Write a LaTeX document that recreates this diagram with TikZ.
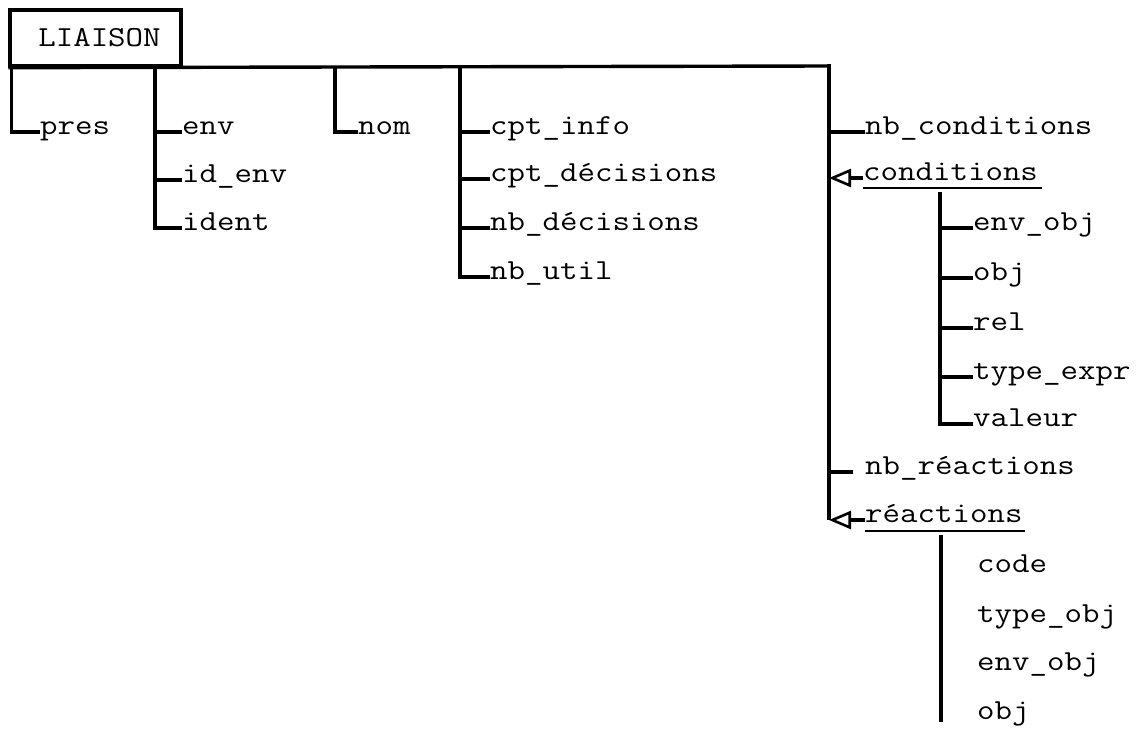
\documentclass[tikz,border=0pt]{standalone}
\usepackage{fontspec}
\usetikzlibrary{arrows.meta}
\newcommand\labfont{\ttfamily\fontsize{29}{31}\selectfont}
\newcommand\wt[1]{\scalebox{1.17}[1]{#1}}
\begin{document}
\begin{tikzpicture}[x=1pt,y=-1pt,
  lbl/.style={anchor=mid west, inner sep=0pt, font=\labfont},
  ln/.style={line width=3.4pt, line cap=butt, line join=miter},
  arr/.style={ln, -{Triangle[open, length=22pt, width=18pt, line width=2.6pt]}},
  uline/.style={line width=2.6pt},
  rootbox/.style={draw, line width=3.4pt, minimum width=171pt, minimum height=56pt, inner sep=0pt, font=\labfont}]
\useasboundingbox (0,0) rectangle (1139,733);
\fill[white] (0,0) rectangle (1139,733);

% root
\node[rootbox] (root) at (95.5,38) {\hspace{8pt}\wt{LIAISON}};
\coordinate (barend) at (829,66);
\draw[ln] (root.south west) -- (barend);

% first-level labels
\node[lbl] (pres) at (40,132) {\wt{pres}};
\node[lbl] (env) at (182,132) {\wt{env}};
\node[lbl] (idenv) at (182,180) {\wt{id\_env}};
\node[lbl] (ident) at (182,228) {\wt{ident}};
\node[lbl] (nom) at (358,132) {\wt{nom}};
\node[lbl] (cptinfo) at (490,132) {\wt{cpt\_info}};
\node[lbl] (cptdec) at (490,179) {\wt{cpt\_décisions}};
\node[lbl] (nbdec) at (490,228) {\wt{nb\_décisions}};
\node[lbl] (nbutil) at (490,277) {\wt{nb\_util}};
\node[lbl] (nbcond) at (865,132) {\wt{nb\_conditions}};
\node[lbl] (cond) at (863,178) {\wt{conditions}};
\node[lbl] (nbreac) at (865,472) {\wt{nb\_réactions}};
\node[lbl] (reac) at (865,520) {\wt{réactions}};

% conditions children
\node[lbl] (cenvobj) at (973,228) {\wt{env\_obj}};
\node[lbl] (cobj) at (973,278) {\wt{obj}};
\node[lbl] (crel) at (973,328) {\wt{rel}};
\node[lbl] (ctype) at (973,377) {\wt{type\_expr}};
\node[lbl] (cval) at (973,424) {\wt{valeur}};

% reactions children
\node[lbl] (rcode) at (977,570) {\wt{code}};
\node[lbl] (rtype) at (977,620) {\wt{type\_obj}};
\node[lbl] (renv) at (977,668) {\wt{env\_obj}};
\node[lbl] (robj) at (977,717) {\wt{obj}};

% branch tops
\coordinate (b1) at (11.5,66);
\coordinate (b2) at (155,66);
\coordinate (b3) at (335,66);
\coordinate (b4) at (460,66);

\draw[ln] (b1) |- (pres.mid west);

\draw[ln] (b2) |- (ident.mid west);
\draw[ln] (b2 |- env.mid west) -- (env.mid west);
\draw[ln] (b2 |- idenv.mid west) -- (idenv.mid west);

\draw[ln] (b3) |- (nom.mid west);

\draw[ln] (b4) |- (nbutil.mid west);
\draw[ln] (b4 |- cptinfo.mid west) -- (cptinfo.mid west);
\draw[ln] (b4 |- cptdec.mid west) -- (cptdec.mid west);
\draw[ln] (b4 |- nbdec.mid west) -- (nbdec.mid west);

% main vertical
\coordinate (mainend) at (barend |- reac.mid west);
\draw[ln] ([yshift=1.7pt]barend) -- (mainend);
\draw[ln] (barend |- nbcond.mid west) -- (nbcond.mid west);
\draw[ln] (barend |- nbreac.mid west) -- ([xshift=-12pt]nbreac.mid west);
\draw[arr] (cond.mid west) -- (barend |- cond.mid west);
\draw[arr] (reac.mid west) -- (mainend);

% underlines
\draw[uline] ([yshift=-8pt]cond.base west) -- ([yshift=-8pt,xshift=4pt]cond.base east);
\draw[uline] ([yshift=-9pt]reac.base west) -- ([yshift=-9pt,xshift=2pt]reac.base east);

% conditions sub-tree
\coordinate (cs) at (940,192);
\draw[ln] (cs) |- (cval.mid west);
\draw[ln] (cs |- cenvobj.mid west) -- (cenvobj.mid west);
\draw[ln] (cs |- cobj.mid west) -- (cobj.mid west);
\draw[ln] (cs |- crel.mid west) -- (crel.mid west);
\draw[ln] (cs |- ctype.mid west) -- (ctype.mid west);

% reactions sub-tree
\coordinate (rs) at (941,535);
\coordinate (rsend) at (941,722);
\draw[ln] (rs) -- (rsend);
\end{tikzpicture}
\end{document}
